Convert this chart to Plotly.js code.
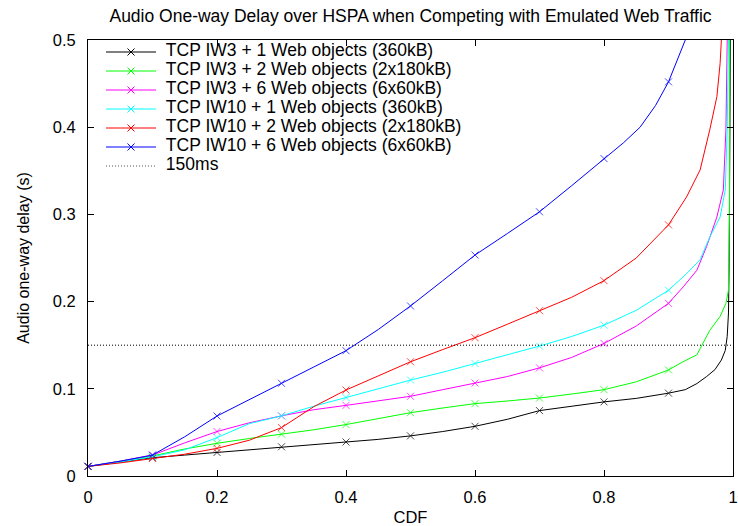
<!DOCTYPE html>
<html>
<head>
<meta charset="utf-8">
<script src="https://cdn.plot.ly/plotly-3.0.1.min.js"></script>
<style>html,body{margin:0;padding:0;background:#fff;}#chart{width:738px;height:526px;}</style>
</head>
<body>
<div id="chart"></div>
<script>
// ---- data (CDF fraction vs. audio one-way delay in seconds) ----
var seriesNames = [
  "TCP IW3 + 1 Web objects (360kB)",
  "TCP IW3 + 2 Web objects (2x180kB)",
  "TCP IW3 + 6 Web objects (6x60kB)",
  "TCP IW10 + 1 Web objects (360kB)",
  "TCP IW10 + 2 Web objects (2x180kB)",
  "TCP IW10 + 6 Web objects (6x60kB)"
];
var seriesColors = ["#000000", "#00ff00", "#ff00ff", "#00ffff", "#ff0000", "#0000ff"];

var iw3_1_x = [0, 0.05, 0.1, 0.15, 0.2, 0.25, 0.3, 0.35, 0.4, 0.45, 0.5, 0.55, 0.6, 0.65, 0.7, 0.75, 0.8, 0.85, 0.9, 0.926, 0.944, 0.959, 0.972, 0.982, 0.988, 0.991, 0.993, 0.994, 0.995, 0.996];
var iw3_1_y = [0.011, 0.016, 0.021, 0.024, 0.027, 0.030, 0.0335, 0.036, 0.039, 0.042, 0.046, 0.051, 0.057, 0.065, 0.075, 0.080, 0.085, 0.089, 0.095, 0.099, 0.106, 0.114, 0.122, 0.133, 0.144, 0.160, 0.187, 0.244, 0.35, 0.5];

var iw3_2_x = [0, 0.05, 0.1, 0.15, 0.2, 0.25, 0.3, 0.35, 0.4, 0.45, 0.5, 0.55, 0.6, 0.65, 0.7, 0.75, 0.8, 0.85, 0.9, 0.92, 0.944, 0.964, 0.98, 0.989, 0.993, 0.9945, 0.995];
var iw3_2_y = [0.011, 0.017, 0.023, 0.031, 0.0375, 0.043, 0.048, 0.053, 0.059, 0.066, 0.0726, 0.078, 0.083, 0.086, 0.0894, 0.094, 0.099, 0.108, 0.1216, 0.130, 0.139, 0.167, 0.183, 0.198, 0.213, 0.30, 0.5];

var iw3_6_x = [0, 0.05, 0.1, 0.15, 0.2, 0.25, 0.3, 0.35, 0.4, 0.45, 0.5, 0.55, 0.6, 0.65, 0.7, 0.75, 0.8, 0.85, 0.9, 0.923, 0.944, 0.959, 0.975, 0.985, 0.989, 0.99, 0.991];
var iw3_6_y = [0.011, 0.017, 0.024, 0.038, 0.051, 0.061, 0.069, 0.076, 0.081, 0.086, 0.0914, 0.099, 0.1066, 0.114, 0.124, 0.136, 0.152, 0.172, 0.198, 0.217, 0.236, 0.263, 0.297, 0.328, 0.397, 0.473, 0.5];

var iw10_1_x = [0, 0.05, 0.1, 0.15, 0.2, 0.25, 0.3, 0.35, 0.4, 0.45, 0.5, 0.55, 0.6, 0.65, 0.7, 0.75, 0.8, 0.85, 0.9, 0.928, 0.949, 0.964, 0.98, 0.988, 0.991, 0.993];
var iw10_1_y = [0.011, 0.016, 0.022, 0.030, 0.044, 0.060, 0.069, 0.080, 0.090, 0.100, 0.110, 0.119, 0.129, 0.139, 0.149, 0.160, 0.173, 0.190, 0.213, 0.232, 0.248, 0.274, 0.297, 0.328, 0.397, 0.5];

var iw10_2_x = [0, 0.05, 0.1, 0.15, 0.2, 0.25, 0.3, 0.35, 0.4, 0.45, 0.5, 0.55, 0.6, 0.65, 0.7, 0.75, 0.8, 0.85, 0.9, 0.928, 0.949, 0.964, 0.975, 0.98, 0.982];
var iw10_2_y = [0.011, 0.015, 0.020, 0.025, 0.0317, 0.041, 0.0555, 0.0795, 0.0986, 0.115, 0.131, 0.145, 0.1586, 0.174, 0.1896, 0.205, 0.224, 0.250, 0.288, 0.320, 0.351, 0.397, 0.435, 0.473, 0.5];

var iw10_6_x = [0, 0.05, 0.1, 0.15, 0.2, 0.25, 0.3, 0.35, 0.4, 0.45, 0.5, 0.55, 0.6, 0.65, 0.7, 0.75, 0.8, 0.83, 0.856, 0.88, 0.9, 0.926];
var iw10_6_y = [0.011, 0.017, 0.024, 0.045, 0.0688, 0.088, 0.1063, 0.125, 0.1437, 0.168, 0.195, 0.224, 0.2534, 0.278, 0.303, 0.333, 0.364, 0.382, 0.400, 0.425, 0.452, 0.5];

var refLineName = "150ms";
var refLineX = [0, 1];
var refLineY = [0.15, 0.15];

var xTickVals = [0, 0.2, 0.4, 0.6, 0.8, 1];
var xTickText = ["0", "0.2", "0.4", "0.6", "0.8", "1"];
var yTickVals = [0, 0.1, 0.2, 0.3, 0.4, 0.5];
var yTickText = ["0", "0.1", "0.2", "0.3", "0.4", "0.5"];

var titleText = "Audio One-way Delay over HSPA when Competing with Emulated Web Traffic";
var xTitle = "CDF";
var yTitle = "Audio one-way delay (s)";

// ---- build traces ----
var allX = [iw3_1_x, iw3_2_x, iw3_6_x, iw10_1_x, iw10_2_x, iw10_6_x];
var allY = [iw3_1_y, iw3_2_y, iw3_6_y, iw10_1_y, iw10_2_y, iw10_6_y];
var FONT = "Liberation Sans, Arial, Helvetica, sans-serif";
var LEG_FS = 17.5;
var DOTS = "1px,2px";

function isDecile(v) {
  var t = v * 10;
  return Math.abs(t - Math.round(t)) < 1e-9 && v < 0.95;
}
function legendLabel(s) {
  return '<span style="font-size:' + LEG_FS + 'px">\u00a0' + s + '</span>';
}

var traces = [];
for (var i = 0; i < seriesNames.length; i++) {
  var sizes = allX[i].map(function (v) { return isDecile(v) ? 7 : 0; });
  traces.push({
    type: "scatter", mode: "lines+markers",
    x: allX[i], y: allY[i],
    showlegend: false, cliponaxis: false, hoverinfo: "skip",
    line: { color: seriesColors[i], width: 1 },
    marker: { symbol: "x-thin", size: sizes, color: seriesColors[i], line: { color: seriesColors[i], width: 1 } }
  });
}
traces.push({
  type: "scatter", mode: "lines", x: refLineX, y: refLineY,
  showlegend: false, hoverinfo: "skip",
  line: { color: "#000000", width: 1, dash: DOTS }
});
// legend entries
for (var j = 0; j < seriesNames.length; j++) {
  traces.push({
    type: "scatter", mode: "lines+markers", x: [null], y: [null],
    name: legendLabel(seriesNames[j]),
    line: { color: seriesColors[j], width: 1 },
    marker: { symbol: "x-thin", size: 7, color: seriesColors[j], line: { color: seriesColors[j], width: 1 } }
  });
}
traces.push({
  type: "scatter", mode: "lines", x: [null], y: [null],
  name: legendLabel(refLineName),
  line: { color: "#555555", width: 1, dash: DOTS }
});

var axisCommon = {
  showline: true, linecolor: "#000000", linewidth: 1, mirror: "ticks",
  ticks: "inside", ticklen: 6, tickwidth: 1, tickcolor: "#000000",
  showgrid: false, zeroline: false,
  tickfont: { family: FONT, size: 16.5, color: "#000000" }
};

var layout = {
  width: 738, height: 526,
  paper_bgcolor: "#ffffff", plot_bgcolor: "#ffffff",
  margin: { l: 88, r: 5, t: 40, b: 50, pad: 0 },
  font: { family: FONT, color: "#000000" },
  title: { text: titleText, font: { family: FONT, size: 17.5, color: "#000000" },
           x: 0.5, xref: "paper", xanchor: "center", y: 1 - 16 / 526, yref: "container", yanchor: "middle" },
  xaxis: Object.assign({}, axisCommon, {
    range: [0, 1], tickvals: xTickVals, ticktext: xTickText, ticklabelstandoff: 6,
    title: { text: xTitle, font: { family: FONT, size: 16.5, color: "#000000" }, standoff: 6 }
  }),
  yaxis: Object.assign({}, axisCommon, {
    range: [0, 0.5], tickvals: yTickVals, ticktext: yTickText, ticklabelstandoff: 8,
    title: { text: yTitle, font: { family: FONT, size: 16, color: "#000000" }, standoff: 19 }
  }),
  legend: {
    x: 13 / 645, y: 1 + 2.5 / 436, xanchor: "left", yanchor: "top",
    bgcolor: "rgba(0,0,0,0)", borderwidth: 0,
    font: { family: FONT, size: 11, color: "#000000" },
    itemwidth: 50, tracegroupgap: 0
  },
  showlegend: true
};

Plotly.newPlot("chart", traces, layout, { staticPlot: true, displayModeBar: false });
</script>
</body>
</html>
